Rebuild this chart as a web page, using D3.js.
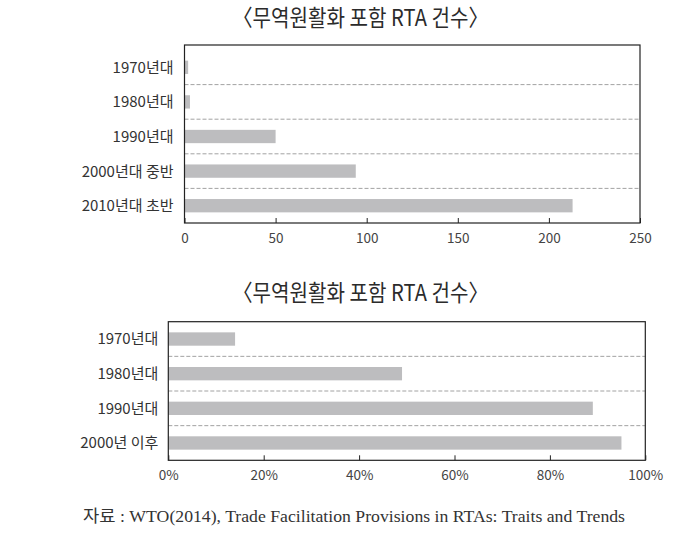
<!DOCTYPE html>
<html>
<head>
<meta charset="utf-8">
<script src="https://cdn.jsdelivr.net/npm/d3@7"></script>
<style>
  body { margin: 0; background: #fff; }
  svg { display: block; }
</style>
</head>
<body>
<svg id="chart" width="678" height="539"></svg>
<script>
// data
var titleTop = "〈무역원활화 포함 RTA 건수〉";
var catsTop = ["1970년대", "1980년대", "1990년대", "2000년대 중반", "2010년대 초반"];
var valsTop = [2, 3, 50, 94, 213];
var ticksTop = [0, 50, 100, 150, 200, 250];

var titleBot = "〈무역원활화 포함 RTA 건수〉";
var catsBot = ["1970년대", "1980년대", "1990년대", "2000년 이후"];
var valsBot = [14, 49, 89, 95];
var ticksBot = [0, 20, 40, 60, 80, 100];

var source = "자료 : WTO(2014), Trade Facilitation Provisions in RTAs: Traits and Trends";

var KR = "'Noto Sans CJK KR', 'Noto Sans', sans-serif";
var BAR = "#bdbdbf";

var svg = d3.select("#chart");

function drawPanel(opt){
    var g = svg.append("g");

    var x = d3.scaleLinear()
              .domain([0, opt.max])
              .range([opt.left, opt.right]);
    var y = d3.scaleBand()
              .domain(opt.cats)
              .range([opt.top + opt.padTop, opt.bottom])
              .paddingInner(0.615)
              .paddingOuter(0.3075);

    // title
    g.append("text")
     .attr("x", opt.titleX)
     .attr("y", opt.titleY)
     .attr("text-anchor", "middle")
     .attr("font-family", KR)
     .attr("font-size", 23)
     .attr("fill", "#2b2b2b")
     .attr("textLength", 256)
     .attr("lengthAdjust", "spacingAndGlyphs")
     .text(opt.title);

    // dashed separators
    var step = y.step();
    g.selectAll(".sep")
     .data(opt.cats.slice(1))
     .enter().append("line")
     .attr("x1", opt.left)
     .attr("x2", opt.right)
     .attr("y1", function(d){ return y(d) + y.bandwidth() / 2 - step / 2; })
     .attr("y2", function(d){ return y(d) + y.bandwidth() / 2 - step / 2; })
     .attr("stroke", "#8a8a8a")
     .attr("stroke-width", 0.8)
     .attr("stroke-dasharray", "4,2");

    // bars
    g.selectAll(".bar")
     .data(opt.vals)
     .enter().append("rect")
     .attr("x", x(0))
     .attr("y", function(d, i){ return y(opt.cats[i]); })
     .attr("width", function(d){ return x(d) - x(0); })
     .attr("height", y.bandwidth())
     .attr("fill", BAR);

    // category labels
    g.selectAll(".cat")
     .data(opt.cats)
     .enter().append("text")
     .attr("x", opt.left - opt.labelGap)
     .attr("y", function(d){ return y(d) + y.bandwidth() / 2; })
     .attr("dy", "0.36em")
     .attr("text-anchor", "end")
     .attr("font-family", KR)
     .attr("font-size", 15)
     .attr("fill", "#333")
     .text(function(d){ return d; });

    // x axis, ticks pointing inward
    var ax = g.append("g")
      .attr("transform", "translate(0," + opt.bottom + ")")
      .call(d3.axisBottom(x)
              .tickValues(opt.ticks)
              .tickSize(-5)
              .tickPadding(9)
              .tickFormat(opt.fmt));
    ax.select(".domain").remove();
    ax.selectAll("line").attr("stroke", "#222").attr("stroke-width", 1);
    ax.selectAll("text")
      .attr("font-family", KR)
      .attr("font-size", 13.5)
      .attr("fill", "#444")
      .attr("dy", "0.8em");

    // frame
    g.append("rect")
     .attr("x", opt.left)
     .attr("y", opt.top)
     .attr("width", opt.right - opt.left)
     .attr("height", opt.bottom - opt.top)
     .attr("fill", "none")
     .attr("stroke", "#222")
     .attr("stroke-width", 1.2);
}

drawPanel({
    title: titleTop, titleX: 360.5, titleY: 26,
    cats: catsTop, vals: valsTop, ticks: ticksTop, max: 250,
    left: 184.5, right: 640, top: 45, bottom: 223, padTop: 5,
    labelGap: 11,
    fmt: function(d){ return d; }
});

drawPanel({
    title: titleBot, titleX: 360.5, titleY: 301,
    cats: catsBot, vals: valsBot, ticks: ticksBot, max: 100,
    left: 168.3, right: 645.3, top: 321.7, bottom: 460.3, padTop: 0,
    labelGap: 10,
    fmt: function(d){ return d + "%"; }
});

// source note
svg.append("text")
   .attr("x", 83)
   .attr("y", 522)
   .attr("font-family", "'Liberation Serif', 'DejaVu Serif', 'Noto Sans CJK KR', serif")
   .attr("font-size", 16.5)
   .attr("fill", "#333")
   .attr("textLength", 542)
   .attr("lengthAdjust", "spacingAndGlyphs")
   .text(source);
</script>
</body>
</html>
